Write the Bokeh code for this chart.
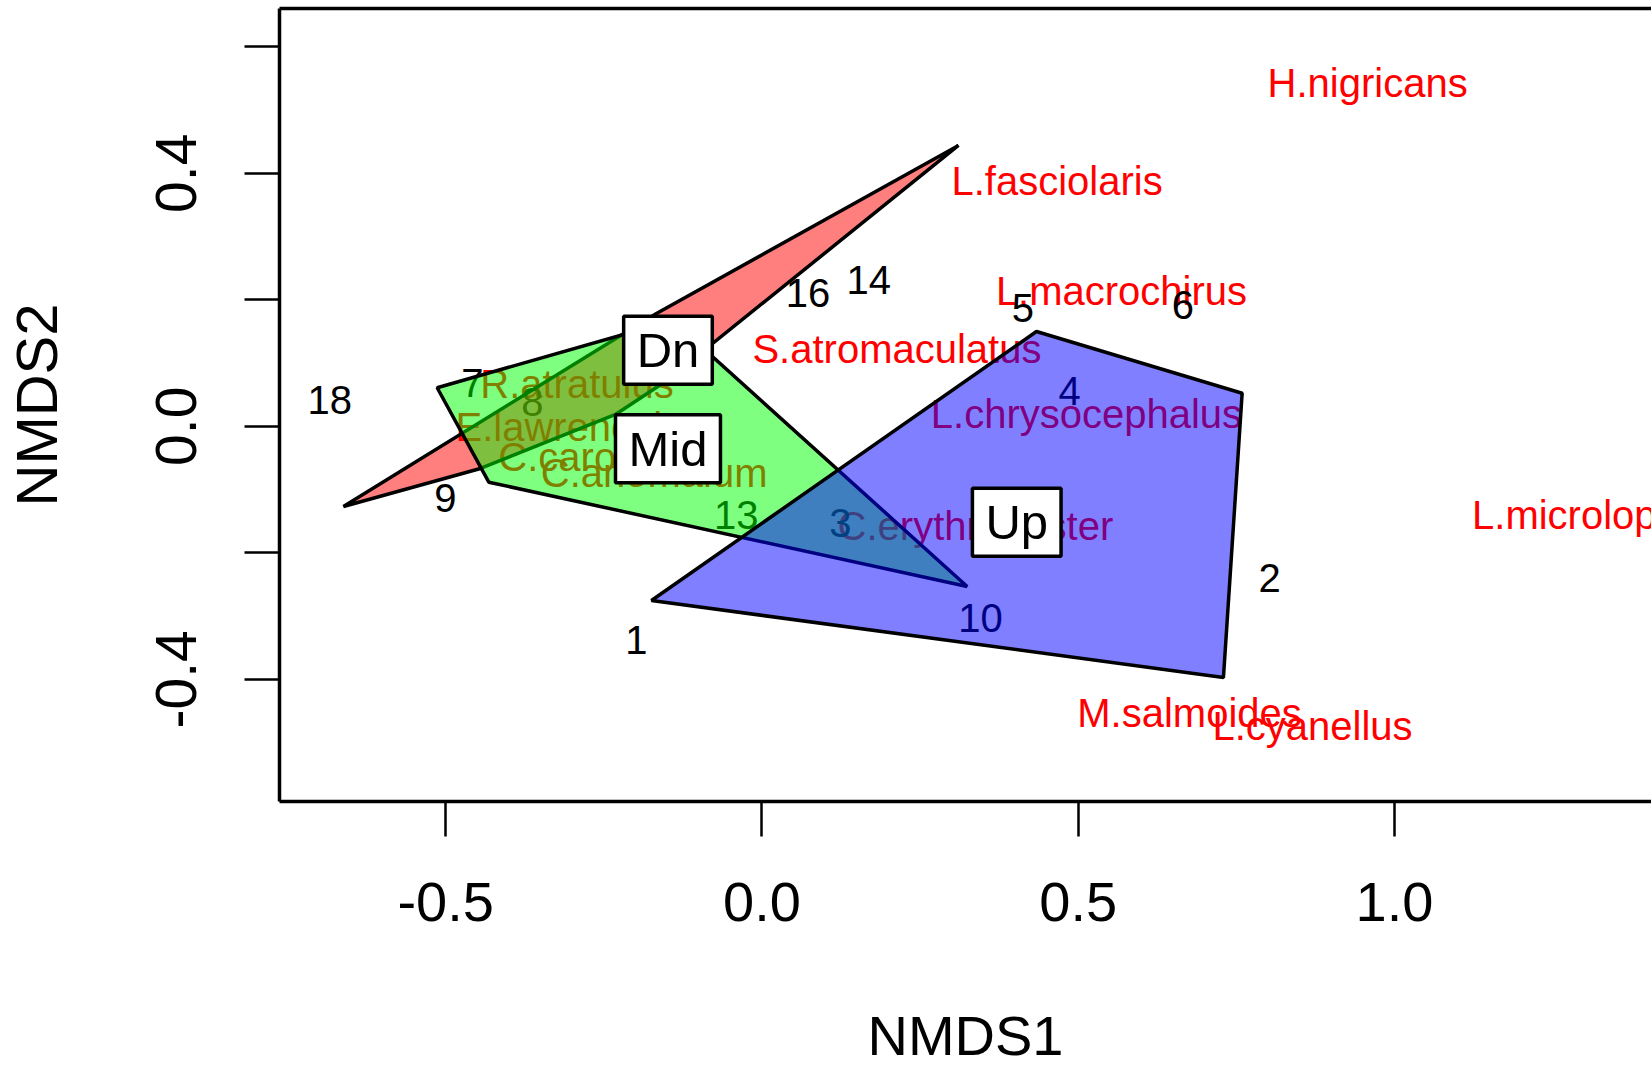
from bokeh.plotting import figure
from bokeh.models import Range1d, FixedTicker, PrintfTickFormatter, LinearAxis, ColumnDataSource
from bokeh.core.properties import value
from bokeh.embed import file_html
from bokeh.resources import INLINE

# ---- data (NMDS scores) ----
# convex hull vertices of each group
dn_x = [-0.6617, -0.4451, -0.2316, -0.1526, 0.3107, -0.1668]
dn_y = [-0.1268, -0.0667, 0.0187, 0.0708, 0.4440, 0.1783]
mid_x = [-0.5135, -0.1415, 0.3244, -0.4319]
mid_y = [0.0609, 0.1673, -0.2533, -0.0884]
up_x = [-0.1747, 0.4340, 0.7592, 0.7296]
up_y = [-0.2754, 0.1499, 0.0523, -0.3972]

# species scores
species = ["H.nigricans", "L.fasciolaris", "L.macrochirus", "S.atromaculatus",
           "L.chrysocephalus", "R.atratulus", "E.lawrencei", "C.carolinae",
           "C.anomalum", "C.erythrogaster", "L.microlophus", "M.salmoides",
           "L.cyanellus"]
species_x = [0.9576, 0.4666, 0.5684, 0.2134, 0.5130, -0.2925, -0.3211, -0.2569,
             -0.1705, 0.3375, 1.3195, 0.6760, 0.8704]
species_y = [0.5423, 0.3870, 0.2142, 0.1225, 0.0198, 0.0672, -0.0014, -0.0489,
             -0.0737, -0.1581, -0.1410, -0.4528, -0.4746]

# site scores
sites = ["1", "2", "3", "4", "5", "6", "7", "8", "9", "10", "13", "14", "16", "18"]
site_x = [-0.1984, 0.8027, 0.1241, 0.4865, 0.4126, 0.6656, -0.4577, -0.3628,
          -0.5004, 0.3455, -0.0406, 0.1689, 0.0727, -0.6834]
site_y = [-0.3374, -0.2398, -0.1529, 0.0553, 0.1870, 0.1923, 0.0686, 0.0391,
          -0.1129, -0.3031, -0.1410, 0.2318, 0.2108, 0.0421]

# group label positions
groups = ["Dn", "Mid", "Up"]
group_x = [-0.1486, -0.1486, 0.4028]
group_y = [0.1203, -0.0356, -0.1516]

x_ticks = [-0.5, 0.0, 0.5, 1.0]
y_ticks = [-0.4, 0.0, 0.4]
y_minor_ticks = [-0.2, 0.2, 0.6]

FONT = "Liberation Sans"

p = figure(width=1651, height=1071,
           x_range=Range1d(-0.7628, 1.4064), y_range=Range1d(-0.5932, 0.6605),
           output_backend="svg", toolbar_location=None,
           min_border_left=279, min_border_right=0, min_border_top=8, min_border_bottom=270,
           x_axis_label="NMDS1", y_axis_label="NMDS2")
p.outline_line_color = None
p.xgrid.visible = False
p.ygrid.visible = False
p.background_fill_color = "white"
p.border_fill_color = "white"

for ax in (p.xaxis[0], p.yaxis[0]):
    ax.axis_line_width = 3.5
    ax.axis_line_color = "black"
    ax.major_tick_line_width = 2.5
    ax.major_tick_line_color = "black"
    ax.major_tick_out = 35
    ax.major_tick_in = 0
    ax.major_label_text_font = FONT
    ax.major_label_text_color = "black"
    ax.axis_label_text_font = FONT
    ax.axis_label_text_font_style = "normal"
    ax.axis_label_text_color = "black"
    ax.formatter = PrintfTickFormatter(format="%.1f")

xa = p.xaxis[0]
xa.ticker = FixedTicker(ticks=x_ticks, minor_ticks=[])
xa.minor_tick_out = 0
xa.minor_tick_in = 0
xa.major_label_text_font_size = "56px"
xa.axis_label_text_font_size = "56px"
xa.major_label_standoff = 46
xa.axis_label_standoff = 80

ya = p.yaxis[0]
ya.ticker = FixedTicker(ticks=y_ticks, minor_ticks=y_minor_ticks)
ya.minor_tick_out = 35
ya.minor_tick_in = 0
ya.minor_tick_line_width = 2.5
ya.minor_tick_line_color = "black"
ya.major_label_orientation = "vertical"
ya.major_label_text_font_size = "57px"
ya.axis_label_text_font_size = "58px"
ya.major_label_standoff = 48
ya.axis_label_standoff = 85

# top side of the box
top = LinearAxis(ticker=FixedTicker(ticks=[]), major_tick_out=0, major_tick_in=0,
                 minor_tick_out=0, minor_tick_in=0, major_label_text_font_size="0px",
                 axis_line_width=3.5, axis_line_color="black")
p.add_layout(top, "above")

# texts first (polygons are drawn over them, as in the reference)
sp_src = ColumnDataSource(dict(x=species_x, y=species_y, t=species))
p.text(x="x", y="y", text="t", source=sp_src, text_font=value(FONT),
       text_font_size="40px", text_color="red", text_align="center",
       text_baseline="middle")
st_src = ColumnDataSource(dict(x=site_x, y=site_y, t=sites))
p.text(x="x", y="y", text="t", source=st_src, text_font=value(FONT),
       text_font_size="40px", text_color="black", text_align="center",
       text_baseline="middle")

# hulls
p.patch(dn_x, dn_y, fill_color="red", fill_alpha=0.5, line_color="black", line_width=3.5)
p.patch(mid_x, mid_y, fill_color="#00FF00", fill_alpha=0.5, line_color="black", line_width=3.5)
p.patch(up_x, up_y, fill_color="blue", fill_alpha=0.5, line_color="black", line_width=3.5)

# group labels
gr_src = ColumnDataSource(dict(x=group_x, y=group_y, t=groups))
p.text(x="x", y="y", text="t", source=gr_src, text_font=value(FONT),
       text_font_size="49px", text_color="black", text_align="center",
       text_baseline="middle", background_fill_color="white",
       border_line_color="black", border_line_width=3.5,
       padding=dict(left=13, right=13, top=7, bottom=7))

open("out.html", "w").write(file_html(p, INLINE))
